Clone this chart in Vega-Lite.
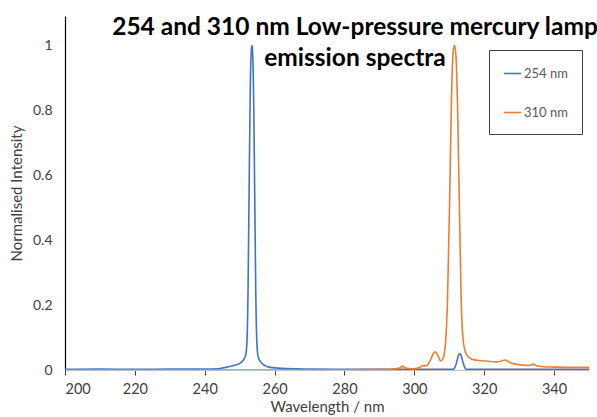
{
  "$schema": "https://vega.github.io/schema/vega-lite/v6.json",
  "autosize": "none",
  "width": 524,
  "height": 354,
  "padding": {"left": 65, "top": 16, "right": 8, "bottom": 47},
  "background": "white",
  "config": {
    "font": "Lato",
    "view": {"stroke": null}
  },
  "title": {
    "text": ["254 and 310 nm Low-pressure mercury lamp", "emission spectra"],
    "font": "Lato",
    "fontSize": 24.5,
    "fontWeight": "bold",
    "color": "#000000",
    "anchor": "middle",
    "frame": "group",
    "dx": 28,
    "lineHeight": 31,
    "baseline": "alphabetic",
    "offset": -74
  },
  "data": {
    "values": [
      {"wavelength": 200, "intensity": 0.002, "series": "254 nm"},
      {"wavelength": 210, "intensity": 0.003, "series": "254 nm"},
      {"wavelength": 220, "intensity": 0.002, "series": "254 nm"},
      {"wavelength": 230, "intensity": 0.003, "series": "254 nm"},
      {"wavelength": 240, "intensity": 0.003, "series": "254 nm"},
      {"wavelength": 244, "intensity": 0.004, "series": "254 nm"},
      {"wavelength": 246, "intensity": 0.008, "series": "254 nm"},
      {"wavelength": 248, "intensity": 0.013, "series": "254 nm"},
      {"wavelength": 250, "intensity": 0.02, "series": "254 nm"},
      {"wavelength": 251, "intensity": 0.03, "series": "254 nm"},
      {"wavelength": 251.7, "intensity": 0.045, "series": "254 nm"},
      {"wavelength": 252.1, "intensity": 0.09, "series": "254 nm"},
      {"wavelength": 252.4, "intensity": 0.25, "series": "254 nm"},
      {"wavelength": 252.7, "intensity": 0.55, "series": "254 nm"},
      {"wavelength": 253.0, "intensity": 0.84, "series": "254 nm"},
      {"wavelength": 253.3, "intensity": 0.98, "series": "254 nm"},
      {"wavelength": 253.5, "intensity": 1.0, "series": "254 nm"},
      {"wavelength": 253.7, "intensity": 0.98, "series": "254 nm"},
      {"wavelength": 254.0, "intensity": 0.84, "series": "254 nm"},
      {"wavelength": 254.3, "intensity": 0.55, "series": "254 nm"},
      {"wavelength": 254.6, "intensity": 0.25, "series": "254 nm"},
      {"wavelength": 254.9, "intensity": 0.09, "series": "254 nm"},
      {"wavelength": 255.3, "intensity": 0.04, "series": "254 nm"},
      {"wavelength": 256, "intensity": 0.025, "series": "254 nm"},
      {"wavelength": 257, "intensity": 0.015, "series": "254 nm"},
      {"wavelength": 258.7, "intensity": 0.008, "series": "254 nm"},
      {"wavelength": 262, "intensity": 0.005, "series": "254 nm"},
      {"wavelength": 270, "intensity": 0.003, "series": "254 nm"},
      {"wavelength": 280, "intensity": 0.002, "series": "254 nm"},
      {"wavelength": 290, "intensity": 0.002, "series": "254 nm"},
      {"wavelength": 300, "intensity": 0.002, "series": "254 nm"},
      {"wavelength": 306, "intensity": 0.002, "series": "254 nm"},
      {"wavelength": 311, "intensity": 0.002, "series": "254 nm"},
      {"wavelength": 311.7, "intensity": 0.01, "series": "254 nm"},
      {"wavelength": 312.3, "intensity": 0.032, "series": "254 nm"},
      {"wavelength": 312.7, "intensity": 0.047, "series": "254 nm"},
      {"wavelength": 313.0, "intensity": 0.05, "series": "254 nm"},
      {"wavelength": 313.3, "intensity": 0.047, "series": "254 nm"},
      {"wavelength": 313.8, "intensity": 0.028, "series": "254 nm"},
      {"wavelength": 314.4, "intensity": 0.008, "series": "254 nm"},
      {"wavelength": 315, "intensity": 0.002, "series": "254 nm"},
      {"wavelength": 320, "intensity": 0.002, "series": "254 nm"},
      {"wavelength": 330, "intensity": 0.002, "series": "254 nm"},
      {"wavelength": 340, "intensity": 0.002, "series": "254 nm"},
      {"wavelength": 350, "intensity": 0.002, "series": "254 nm"},

      {"wavelength": 200, "intensity": 0.0, "series": "310 nm"},
      {"wavelength": 220, "intensity": 0.0, "series": "310 nm"},
      {"wavelength": 240, "intensity": 0.0, "series": "310 nm"},
      {"wavelength": 260, "intensity": 0.0, "series": "310 nm"},
      {"wavelength": 280, "intensity": 0.001, "series": "310 nm"},
      {"wavelength": 290, "intensity": 0.002, "series": "310 nm"},
      {"wavelength": 294, "intensity": 0.003, "series": "310 nm"},
      {"wavelength": 295.8, "intensity": 0.006, "series": "310 nm"},
      {"wavelength": 296.6, "intensity": 0.012, "series": "310 nm"},
      {"wavelength": 297.5, "intensity": 0.006, "series": "310 nm"},
      {"wavelength": 299.5, "intensity": 0.004, "series": "310 nm"},
      {"wavelength": 301.5, "intensity": 0.008, "series": "310 nm"},
      {"wavelength": 302.5, "intensity": 0.014, "series": "310 nm"},
      {"wavelength": 303.5, "intensity": 0.013, "series": "310 nm"},
      {"wavelength": 304.6, "intensity": 0.03, "series": "310 nm"},
      {"wavelength": 305.4, "intensity": 0.05, "series": "310 nm"},
      {"wavelength": 306.0, "intensity": 0.056, "series": "310 nm"},
      {"wavelength": 306.7, "intensity": 0.045, "series": "310 nm"},
      {"wavelength": 307.5, "intensity": 0.028, "series": "310 nm"},
      {"wavelength": 308.2, "intensity": 0.035, "series": "310 nm"},
      {"wavelength": 308.9, "intensity": 0.08, "series": "310 nm"},
      {"wavelength": 309.5, "intensity": 0.22, "series": "310 nm"},
      {"wavelength": 310.1, "intensity": 0.52, "series": "310 nm"},
      {"wavelength": 310.6, "intensity": 0.82, "series": "310 nm"},
      {"wavelength": 311.1, "intensity": 0.98, "series": "310 nm"},
      {"wavelength": 311.5, "intensity": 1.0, "series": "310 nm"},
      {"wavelength": 311.9, "intensity": 0.97, "series": "310 nm"},
      {"wavelength": 312.4, "intensity": 0.8, "series": "310 nm"},
      {"wavelength": 312.9, "intensity": 0.5, "series": "310 nm"},
      {"wavelength": 313.4, "intensity": 0.22, "series": "310 nm"},
      {"wavelength": 313.9, "intensity": 0.1, "series": "310 nm"},
      {"wavelength": 314.5, "intensity": 0.06, "series": "310 nm"},
      {"wavelength": 315.3, "intensity": 0.042, "series": "310 nm"},
      {"wavelength": 316.5, "intensity": 0.033, "series": "310 nm"},
      {"wavelength": 318.5, "intensity": 0.029, "series": "310 nm"},
      {"wavelength": 321, "intensity": 0.027, "series": "310 nm"},
      {"wavelength": 323.5, "intensity": 0.025, "series": "310 nm"},
      {"wavelength": 325, "intensity": 0.028, "series": "310 nm"},
      {"wavelength": 326, "intensity": 0.031, "series": "310 nm"},
      {"wavelength": 327.2, "intensity": 0.024, "series": "310 nm"},
      {"wavelength": 329, "intensity": 0.018, "series": "310 nm"},
      {"wavelength": 331, "intensity": 0.015, "series": "310 nm"},
      {"wavelength": 333, "intensity": 0.014, "series": "310 nm"},
      {"wavelength": 334, "intensity": 0.018, "series": "310 nm"},
      {"wavelength": 335, "intensity": 0.013, "series": "310 nm"},
      {"wavelength": 337, "intensity": 0.01, "series": "310 nm"},
      {"wavelength": 340, "intensity": 0.009, "series": "310 nm"},
      {"wavelength": 345, "intensity": 0.008, "series": "310 nm"},
      {"wavelength": 350, "intensity": 0.008, "series": "310 nm"}
    ]
  },
  "mark": {"type": "line", "strokeWidth": 1.6, "interpolate": "monotone", "clip": true},
  "encoding": {
    "x": {
      "field": "wavelength",
      "type": "quantitative",
      "scale": {"domain": [200, 350], "nice": false, "zero": false},
      "axis": {
        "title": "Wavelength / nm",
        "values": [200, 220, 240, 260, 280, 300, 320, 340],
        "format": "d",
        "grid": false,
        "domain": true,
        "domainColor": "#bfbfbf",
        "ticks": true,
        "tickColor": "#404040",
        "tickSize": 5,
        "labelFont": "Lato",
        "labelFontSize": 14.5,
        "labelColor": "#404040",
        "labelPadding": 7,
        "titleFont": "Lato",
        "titleFontSize": 15,
        "titleFontWeight": "normal",
        "titleColor": "#404040",
        "titlePadding": 4
      }
    },
    "y": {
      "field": "intensity",
      "type": "quantitative",
      "scale": {"domain": [0, 1.09], "nice": false},
      "axis": {
        "title": "Normalised Intensity",
        "values": [0, 0.2, 0.4, 0.6, 0.8, 1],
        "format": ".1~f",
        "grid": false,
        "domain": true,
        "domainColor": "#000000",
        "domainWidth": 1.2,
        "ticks": false,
        "labelFont": "Lato",
        "labelFontSize": 14,
        "labelColor": "#404040",
        "labelPadding": 13,
        "titleFont": "Lato",
        "titleFontSize": 15,
        "titleFontWeight": "normal",
        "titleColor": "#404040",
        "titlePadding": 8
      }
    },
    "color": {
      "field": "series",
      "type": "nominal",
      "scale": {"domain": ["254 nm", "310 nm"], "range": ["#4472C4", "#ED7D31"]},
      "legend": {
        "title": null,
        "orient": "none",
        "legendX": 424,
        "legendY": 34,
        "direction": "vertical",
        "symbolType": "stroke",
        "symbolSize": 300,
        "symbolStrokeWidth": 1.6,
        "labelFont": "Lato",
        "labelFontSize": 13,
        "labelColor": "#595959",
        "labelOffset": 2,
        "rowPadding": 22,
        "padding": 14,
        "strokeColor": "#404040",
        "fillColor": "white"
      }
    }
  }
}
